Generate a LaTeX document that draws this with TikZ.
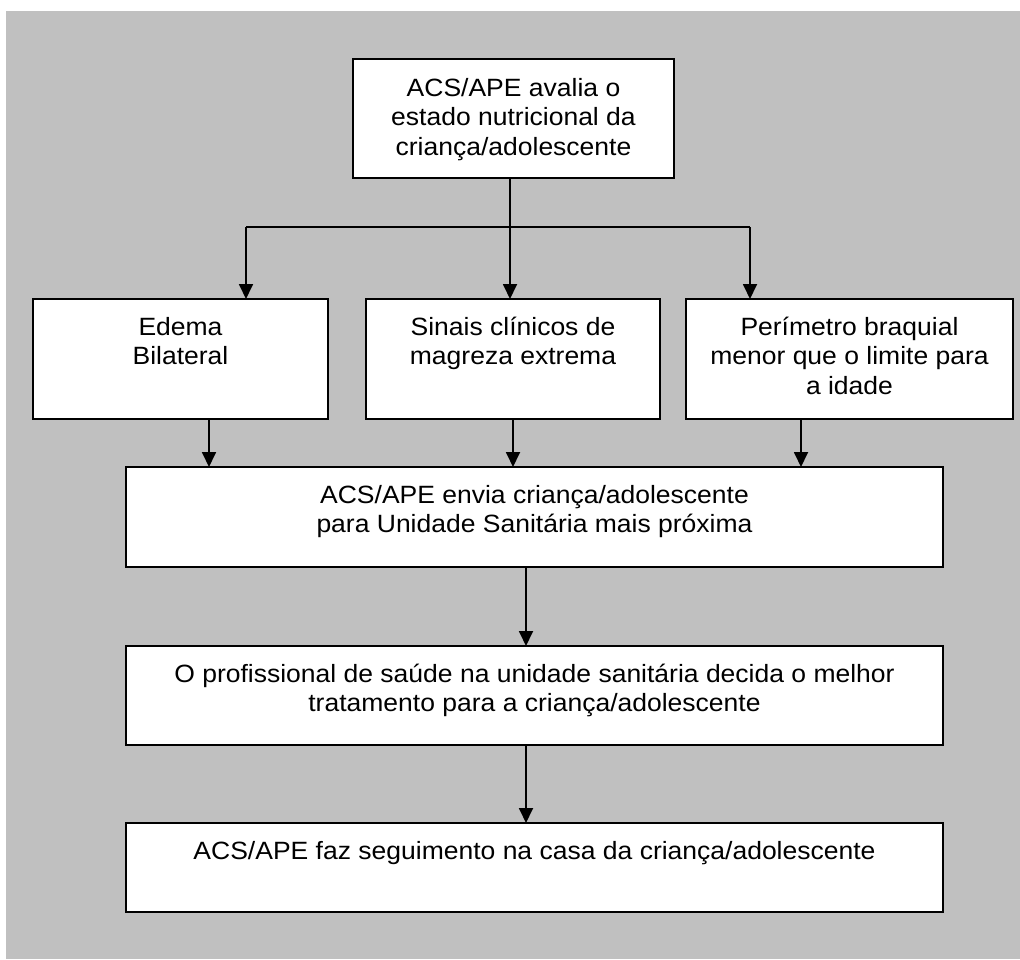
\documentclass[tikz,border=0pt]{standalone}
\usepackage{fontspec}
\setmainfont{Liberation Sans}[FakeStretch=1.06]
\usetikzlibrary{arrows.meta}
\definecolor{bggray}{HTML}{C0C0C0}
\begin{document}
\begin{tikzpicture}[x=1pt,y=-1pt,
  box/.style={draw=black, fill=white, line width=1.8pt, inner sep=0pt, outer sep=0pt},
  txt/.style={anchor=north, inner sep=0pt, align=center, font=\fontsize{25pt}{29.5pt}\selectfont},
  arr/.style={line width=1.8pt, -{Triangle[width=14pt,length=15pt]}},
  ln/.style={line width=1.8pt}]
\useasboundingbox (0,0) rectangle (1020,959);
\fill[white] (0,0) rectangle (1020,959);
\fill[bggray] (6,11) rectangle (1020,959);

% boxes
\node[box, minimum width=321pt, minimum height=119pt] (top) at (513.5,118.5) {};
\node[box, minimum width=295pt, minimum height=120pt] (edema) at (180.5,359) {};
\node[box, minimum width=294pt, minimum height=120pt] (sinais) at (513,359) {};
\node[box, minimum width=327pt, minimum height=120pt] (perim) at (849.5,359) {};
\node[box, minimum width=817pt, minimum height=100pt] (envia) at (534.5,517) {};
\node[box, minimum width=817pt, minimum height=99pt] (prof) at (534.5,695.5) {};
\node[box, minimum width=817pt, minimum height=89pt] (faz) at (534.5,867.5) {};

% texts
\node[txt] (ttop) at ([yshift=-16.5pt]top.north) {\strut ACS/APE avalia o\\\strut estado nutricional da\\\strut criança/adolescente};
\node[txt] (tedema) at ([yshift=-15.5pt]edema.north) {\strut Edema\\\strut Bilateral};
\node[txt] (tsinais) at ([yshift=-15.5pt]sinais.north) {\strut Sinais clínicos de\\\strut magreza extrema};
\node[txt] (tperim) at ([yshift=-15.5pt]perim.north) {\strut Perímetro braquial\\\strut menor que o limite para\\\strut a idade};
\node[txt] (tenvia) at ([yshift=-15.5pt]envia.north) {\strut ACS/APE envia criança/adolescente\\\strut para Unidade Sanitária mais próxima};
\node[txt] (tprof) at ([yshift=-15.5pt]prof.north) {\strut O profissional de saúde na unidade sanitária decida o melhor\\\strut tratamento para a criança/adolescente};
\node[txt] (tfaz) at ([yshift=-15.5pt]faz.north) {\strut ACS/APE faz seguimento na casa da criança/adolescente};

% connectors
\coordinate (split) at (510,227);
\coordinate (bl) at (246,227);
\coordinate (br) at (750,227);
\draw[ln] (top.south -| split) -- (split);
\draw[ln] (bl) -- (br);
\draw[arr] (bl) -- (bl |- edema.north);
\draw[arr] (split) -- (split |- sinais.north);
\draw[arr] (br) -- (br |- perim.north);

\coordinate (e1) at ([xshift=28.5pt]edema.south);
\coordinate (s1) at (sinais.south);
\coordinate (p1) at ([xshift=-48.5pt]perim.south);
\draw[arr] (e1) -- (e1 |- envia.north);
\draw[arr] (s1) -- (s1 |- envia.north);
\draw[arr] (p1) -- (p1 |- envia.north);

\coordinate (v1) at ([xshift=-8.5pt]envia.south);
\coordinate (v2) at ([xshift=-8.5pt]prof.south);
\draw[arr] (v1) -- (v1 |- prof.north);
\draw[arr] (v2) -- (v2 |- faz.north);
\end{tikzpicture}
\end{document}
